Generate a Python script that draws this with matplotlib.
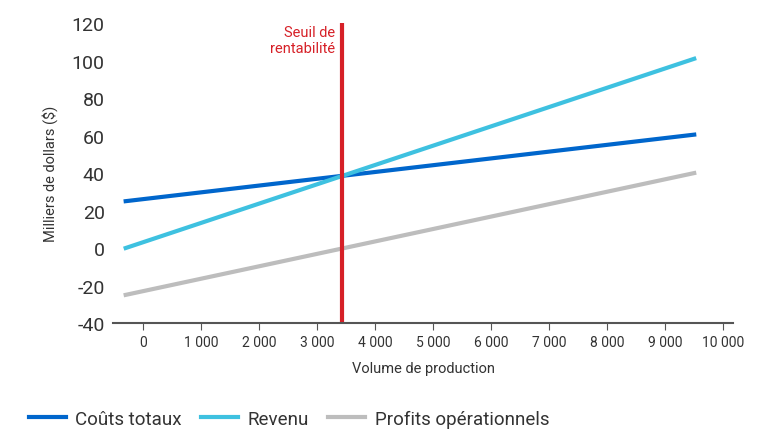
import matplotlib.pyplot as plt

plt.rcParams['font.family'] = ['Roboto', 'DejaVu Sans']

# end points of the lines
volume = [-300, 9500]
couts = [25, 60.5]
revenu = [0, 101]
profits = [-25, 40]
seuil = 3430

xticks = list(range(0, 10001, 1000))
xlabels = ['0'] + [f'{v // 1000} 000' for v in xticks[1:]]
yticks = list(range(-40, 121, 20))

fig = plt.figure(figsize=(7.8, 4.39), dpi=100)
ax = fig.add_axes([0.145, 0.262, 0.795, 0.683])

ax.plot(volume, couts, color='#0066CC', lw=3, label='Coûts totaux')
ax.plot(volume, revenu, color='#3EC1E0', lw=3, label='Revenu')
ax.plot(volume, profits, color='#BDBDBD', lw=3, label='Profits opérationnels')
ax.axvline(seuil, color='#D62027', lw=3)
ax.text(seuil - 120, 111, 'Seuil de\nrentabilité', color='#D62027', ha='right', va='center',
        fontsize=10.5, multialignment='right')

ax.set_xlim(-517, 10172)
ax.set_ylim(-40, 120)
ax.set_xticks(xticks)
ax.set_xticklabels(xlabels, fontsize=10, color='#333333')
ax.set_yticks(yticks)
ax.set_yticklabels([str(v) for v in yticks], fontsize=14, color='#333333')
ax.tick_params(axis='y', length=0, pad=6)
ax.tick_params(axis='x', length=5, color='#555555')
for s in ['top', 'right', 'left']:
    ax.spines[s].set_visible(False)
ax.spines['bottom'].set_color('#555555')
ax.spines['bottom'].set_linewidth(1.5)
ax.set_xlabel('Volume de production', fontsize=10.5, color='#333333', labelpad=9)
ax.set_ylabel('Milliers de dollars ($)', fontsize=10.5, color='#333333', labelpad=10)

fig.legend(loc='lower left', bbox_to_anchor=(0.015, -0.015), ncol=3, frameon=False,
           fontsize=13.5, handlelength=2.0, handletextpad=0.5, columnspacing=1.0,
           labelcolor='#333333')

fig.savefig('out.png', dpi=100)
